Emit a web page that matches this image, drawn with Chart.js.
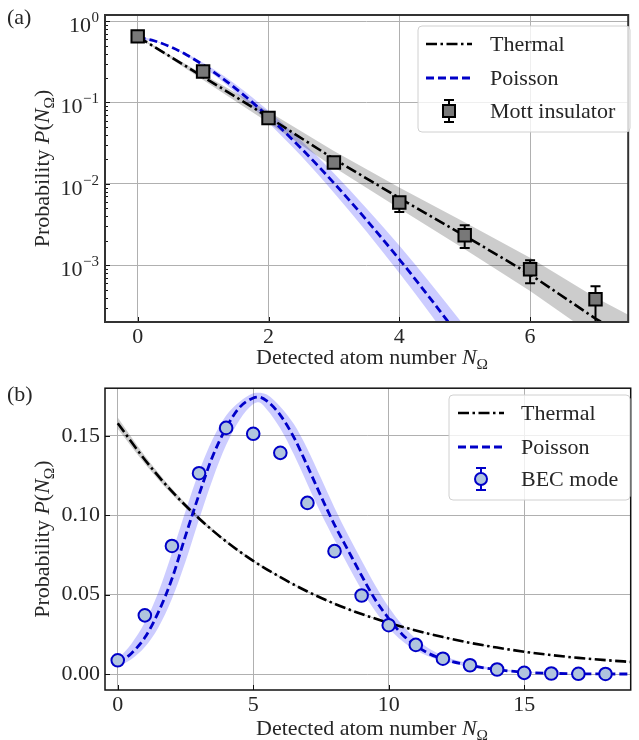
<!DOCTYPE html>
<html><head><meta charset="utf-8">
<script src="https://cdn.jsdelivr.net/npm/chart.js@4.4.1/dist/chart.umd.min.js"></script>
<style>
html,body{margin:0;padding:0;background:#fff;}
#wrap{position:relative;width:639px;height:740px;overflow:hidden;}
canvas{position:absolute;left:0;width:639px;height:370px;}
#ca{top:0}
#cb{top:370px}
</style></head><body>
<div id="wrap"><canvas id="ca" width="639" height="370"></canvas><canvas id="cb" width="639" height="370"></canvas></div>
<script>
// ---------------- DATA: panel (a) ----------------
const A_X_TICKS = [0, 2, 4, 6];
const A_X_TICK_LABELS = ['0', '2', '4', '6'];
const A_Y_TICKS = [1e-3, 1e-2, 1e-1, 1];
const A_Y_TICK_BASE = ['10', '10', '10', '10'];
const A_Y_TICK_EXP = ['\u22123', '\u22122', '\u22121', '0'];

const MOTT_X = [0, 1, 2, 3, 4, 5, 6, 7];
const MOTT_Y = [0.65, 0.241, 0.0645, 0.0183, 0.0059, 0.00233, 0.00089, 0.00038];
const MOTT_LO = [0.63, 0.226, 0.061, 0.0172, 0.0045, 0.00162, 0.0006, 0.0001];
const MOTT_HI = [0.67, 0.256, 0.068, 0.0195, 0.0068, 0.0031, 0.00115, 0.00055];

const THERM_A_X = [0, 1, 2, 3, 4, 5, 6, 7, 7.5];
const THERM_A_Y = [0.645, 0.207, 0.066, 0.0202, 0.0067, 0.0023, 0.00077, 0.00022, 0.00013];
const THERM_A_UP = [0.65, 0.222, 0.0776, 0.0254, 0.00904, 0.00336, 0.00123, 0.0004, 0.000246];
const THERM_A_LO = [0.64, 0.189, 0.0562, 0.016, 0.00497, 0.00157, 0.00048, 0.000132, 0.0000742];

const POIS_A_X = [0, 0.25, 0.5, 0.75, 1, 1.25, 1.5, 1.75, 2, 2.5, 3, 3.5, 4, 4.5, 5];
const POIS_A_Y = [0.631, 0.574, 0.483, 0.384, 0.290, 0.211, 0.148, 0.1009, 0.0668, 0.0273, 0.01024, 0.00358, 0.00118, 0.000366, 0.000108];
const POIS_A_UP = [0.663, 0.587, 0.485, 0.397, 0.307, 0.230, 0.166, 0.116, 0.079, 0.034, 0.0135, 0.00497, 0.00174, 0.000567, 0.000177];
const POIS_A_LO = [0.601, 0.561, 0.481, 0.372, 0.274, 0.194, 0.132, 0.0878, 0.0565, 0.0219, 0.00777, 0.00258, 0.0008, 0.000236, 0.000066];

// ---------------- DATA: panel (b) ----------------
const B_X_TICKS = [0, 5, 10, 15];
const B_X_TICK_LABELS = ['0', '5', '10', '15'];
const B_Y_TICKS = [0, 0.05, 0.10, 0.15];
const B_Y_TICK_LABELS = ['0.00', '0.05', '0.10', '0.15'];

const BEC_X = [0, 1, 2, 3, 4, 5, 6, 7, 8, 9, 10, 11, 12, 13, 14, 15, 16, 17, 18];
const BEC_Y = [0.0087, 0.037, 0.0807, 0.1265, 0.155, 0.1513, 0.1393, 0.1078, 0.0774, 0.0495, 0.0308, 0.0184, 0.0097, 0.0056, 0.0029, 0.0008, 0.0004, 0.0002, 0.0001];
const BEC_ERR = [0.001, 0.002, 0.002, 0.002, 0.002, 0.002, 0.002, 0.002, 0.002, 0.002, 0.002, 0.0015, 0.001, 0.001, 0.001, 0.0005, 0.0005, 0.0003, 0.0002];

const THERM_B_X = [0, 1, 2, 3, 4, 5, 6, 7, 8, 9, 10, 11, 12, 13, 14, 15, 16, 17, 18, 19];
const THERM_B_Y = [0.158, 0.135, 0.115, 0.098, 0.0835, 0.0713, 0.061, 0.052, 0.0443, 0.0378, 0.0323, 0.0275, 0.0233, 0.0197, 0.0167, 0.0141, 0.012, 0.0102, 0.0088, 0.0076];
const THERM_B_UP = [0.1615, 0.1375, 0.1168, 0.0992, 0.0843, 0.0719, 0.0615, 0.0524, 0.0446, 0.0381, 0.0325, 0.0277, 0.0235, 0.0199, 0.0168, 0.0142, 0.0121, 0.0103, 0.0089, 0.0077];
const THERM_B_LO = [0.1545, 0.1325, 0.1132, 0.0968, 0.0827, 0.0707, 0.0605, 0.0516, 0.044, 0.0375, 0.0321, 0.0273, 0.0231, 0.0195, 0.0166, 0.014, 0.0119, 0.0101, 0.0087, 0.0075];

const POIS_B_X = [0, 0.5, 1, 1.5, 2, 2.5, 3, 3.5, 4, 4.5, 5, 5.2, 5.5, 6, 6.5, 7, 7.5, 8, 8.5, 9, 9.5, 10, 10.5, 11, 11.5, 12, 13, 14, 15, 16, 17, 18, 19];
const POIS_B_Y = [0.0068, 0.013, 0.023, 0.039, 0.060, 0.087, 0.113, 0.137, 0.155, 0.168, 0.1738, 0.1744, 0.172, 0.163, 0.149, 0.131, 0.112, 0.094, 0.078, 0.062, 0.047, 0.035, 0.025, 0.018, 0.0128, 0.0095, 0.0055, 0.0028, 0.0012, 0.0005, 0.0002, 0.0001, 0.00005];
const POIS_B_UP = [0.0095, 0.019, 0.0326, 0.0516, 0.0762, 0.1026, 0.1274, 0.1478, 0.1628, 0.1715, 0.1768, 0.1772, 0.176, 0.1684, 0.1574, 0.1418, 0.1234, 0.1048, 0.0876, 0.0716, 0.056, 0.0422, 0.031, 0.0222, 0.016, 0.0116, 0.0067, 0.0036, 0.0017, 0.0007, 0.0003, 0.00015, 0.00008];
const POIS_B_LO = [0.0045, 0.0093, 0.017, 0.0294, 0.0474, 0.0708, 0.0974, 0.1226, 0.1442, 0.1602, 0.170, 0.1712, 0.1666, 0.1546, 0.1382, 0.1196, 0.1012, 0.0844, 0.0684, 0.053, 0.0398, 0.029, 0.0208, 0.015, 0.0109, 0.0083, 0.0047, 0.0023, 0.001, 0.0004, 0.00015, 0.00007, 0.00003];

// ---------------- TEXT ----------------
const Y_TITLE = [{t:'Probability '},{t:'P',it:1},{t:'('},{t:'N',it:1},{t:'\u03A9',sub:1},{t:')'}];
const X_TITLE = [{t:'Detected atom number '},{t:'N',it:1},{t:'\u03A9',sub:1}];
const LEG_A = ['Thermal', 'Poisson', 'Mott insulator'];
const LEG_B = ['Thermal', 'Poisson', 'BEC mode'];

// ---------------- STYLE ----------------
const FONT = 'Liberation Serif';
const BLUE = '#0000c8';
const TXT = '#262626';
const DASHDOT = [11, 3.5, 2.5, 3.5];
const DASH = [8, 4];

function pts(xs, ys) { return xs.map((x, i) => ({x: x, y: ys[i]})); }

function richWidth(ctx, segs, size) {
  let w = 0;
  segs.forEach(s => { ctx.font = (s.it ? 'italic ' : '') + (s.sub ? size * 0.7 : size) + 'px "' + FONT + '"'; w += ctx.measureText(s.t).width; });
  return w;
}
function drawRich(ctx, segs, x, y, size) {
  const total = richWidth(ctx, segs, size);
  let cx = x - total / 2;
  ctx.textAlign = 'left';
  ctx.textBaseline = 'alphabetic';
  segs.forEach(s => {
    const fs = s.sub ? size * 0.7 : size;
    ctx.font = (s.it ? 'italic ' : '') + fs + 'px "' + FONT + '"';
    ctx.fillText(s.t, cx, y + (s.sub ? size * 0.22 : 0));
    cx += ctx.measureText(s.t).width;
  });
}

const errorBarPlugin = {
  id: 'errbars',
  beforeDatasetDraw(chart, args) {
    const ds = chart.data.datasets[args.index];
    if (!ds.errLo) return;
    const xs = chart.scales.x, ys = chart.scales.y, a = chart.chartArea, ctx = chart.ctx;
    ctx.save();
    ctx.beginPath(); ctx.rect(a.left, a.top, a.right - a.left, a.bottom - a.top); ctx.clip();
    ctx.strokeStyle = ds.errColor; ctx.lineWidth = 2;
    ds.data.forEach((p, i) => {
      const px = xs.getPixelForValue(p.x);
      const y1 = ys.getPixelForValue(ds.errLo[i]), y2 = ys.getPixelForValue(ds.errHi[i]);
      ctx.beginPath();
      ctx.moveTo(px, y1); ctx.lineTo(px, y2);
      ctx.moveTo(px - 5, y1); ctx.lineTo(px + 5, y1);
      ctx.moveTo(px - 5, y2); ctx.lineTo(px + 5, y2);
      ctx.stroke();
    });
    ctx.restore();
  }
};

const decorPlugin = {
  id: 'decor',
  afterDraw(chart, args, o) {
    const ctx = chart.ctx, a = chart.chartArea, xs = chart.scales.x, ys = chart.scales.y;
    ctx.save();
    // inward ticks
    ctx.strokeStyle = '#111'; ctx.lineWidth = 1;
    xs.ticks.forEach(t => { const px = Math.round(xs.getPixelForValue(t.value)) + 0.5; ctx.beginPath(); ctx.moveTo(px, a.bottom); ctx.lineTo(px, a.bottom - 5); ctx.stroke(); });
    ys.ticks.forEach(t => { const py = Math.round(ys.getPixelForValue(t.value)) + 0.5; ctx.beginPath(); ctx.moveTo(a.left, py); ctx.lineTo(a.left + 5, py); ctx.stroke(); });
    if (o.minorLog) {
      for (let k = -4; k <= 0; k++) for (let m = 2; m <= 9; m++) {
        const v = m * Math.pow(10, k);
        if (v < ys.min || v > ys.max) continue;
        const py = Math.round(ys.getPixelForValue(v)) + 0.5;
        ctx.beginPath(); ctx.moveTo(a.left, py); ctx.lineTo(a.left + 3, py); ctx.stroke();
      }
    }
    // log tick labels with superscripts
    if (o.logLabels) {
      ctx.fillStyle = TXT; ctx.textBaseline = 'alphabetic'; ctx.textAlign = 'left';
      o.logLabels.ticks.forEach((v, i) => {
        const py = ys.getPixelForValue(v);
        ctx.font = '15px "' + FONT + '"';
        const we = ctx.measureText(o.logLabels.exp[i]).width;
        ctx.font = '22px "' + FONT + '"';
        const wb = ctx.measureText(o.logLabels.base[i]).width;
        const right = a.left - 6;
        ctx.fillText(o.logLabels.base[i], right - we - wb - 0.5, py + 11);
        ctx.font = '15px "' + FONT + '"';
        ctx.fillText(o.logLabels.exp[i], right - we, py + 1);
      });
    }
    // frame
    ctx.strokeStyle = o.frameColor; ctx.lineWidth = o.frameWidth;
    ctx.strokeRect(a.left, a.top, a.right - a.left, a.bottom - a.top);
    // titles
    ctx.fillStyle = TXT;
    drawRich(ctx, X_TITLE, o.xTitleX, o.xTitleY, 22);
    ctx.save();
    ctx.translate(o.yTitleX, (a.top + a.bottom) / 2);
    ctx.rotate(-Math.PI / 2);
    drawRich(ctx, Y_TITLE, 0, 7, 22);
    ctx.restore();
    // panel label
    ctx.font = '22px "' + FONT + '"'; ctx.textAlign = 'left'; ctx.textBaseline = 'middle';
    ctx.fillText(o.panel, 7, o.panelY);
    // legend
    const L = o.legend;
    ctx.beginPath();
    if (ctx.roundRect) ctx.roundRect(L.x, L.y, L.w, L.h, 4); else ctx.rect(L.x, L.y, L.w, L.h);
    ctx.fillStyle = 'rgba(255,255,255,0.8)'; ctx.fill();
    ctx.strokeStyle = '#d0d0d0'; ctx.lineWidth = 1; ctx.stroke();
    L.rows.forEach((r, i) => {
      ctx.save();
      if (r.kind === 'dashdot' || r.kind === 'dash') {
        ctx.strokeStyle = r.kind === 'dash' ? BLUE : '#000';
        ctx.lineWidth = r.kind === 'dash' ? 2.8 : 2.6;
        ctx.setLineDash(r.kind === 'dash' ? DASH : DASHDOT);
        ctx.beginPath(); ctx.moveTo(L.s0, r.y); ctx.lineTo(L.s1, r.y); ctx.stroke();
      } else {
        const cx = (L.s0 + L.s1) / 2;
        ctx.strokeStyle = r.kind === 'square' ? '#000' : BLUE; ctx.lineWidth = 2;
        ctx.beginPath();
        ctx.moveTo(cx, r.y - 11); ctx.lineTo(cx, r.y + 11);
        ctx.moveTo(cx - 5, r.y - 11); ctx.lineTo(cx + 5, r.y - 11);
        ctx.moveTo(cx - 5, r.y + 11); ctx.lineTo(cx + 5, r.y + 11);
        ctx.stroke();
        ctx.beginPath();
        if (r.kind === 'square') { ctx.rect(cx - 6, r.y - 6, 12, 12); ctx.fillStyle = '#787878'; }
        else { ctx.arc(cx, r.y, 6, 0, Math.PI * 2); ctx.fillStyle = '#b0c4de'; }
        ctx.fill(); ctx.stroke();
      }
      ctx.restore();
      ctx.fillStyle = TXT;
      ctx.font = '22px "' + FONT + '"'; ctx.textAlign = 'left'; ctx.textBaseline = 'middle';
      ctx.fillText(r.label, L.tx, r.y + 1);
    });
    ctx.restore();
  }
};

function band(xs, up, lo, color, smooth) {
  const m = smooth ? 'monotone' : 'default';
  return [
    {data: pts(xs, up), borderWidth: 0, pointRadius: 0, fill: false, order: 20, cubicInterpolationMode: m, backgroundColor: color, borderColor: 'rgba(0,0,0,0)'},
    {data: pts(xs, lo), borderWidth: 0, pointRadius: 0, fill: '-1', order: 20, cubicInterpolationMode: m, backgroundColor: color, borderColor: 'rgba(0,0,0,0)'}
  ];
}

const tickFont = {family: FONT, size: 22};

function makeScales(cfg) {
  return {
    x: {
      type: 'linear', min: cfg.xmin, max: cfg.xmax, bounds: 'data',
      grid: {color: '#b0b0b0', lineWidth: 1, drawTicks: false},
      border: {display: false},
      afterBuildTicks: s => { s.ticks = cfg.xt.map(v => ({value: v})); },
      afterFit: s => { s.height = cfg.xh; },
      ticks: {font: tickFont, color: TXT, padding: 2, maxRotation: 0, autoSkip: false,
        callback: (v) => { const i = cfg.xt.indexOf(v); return i >= 0 ? cfg.xl[i] : ''; }}
    },
    y: {
      type: cfg.ylog ? 'logarithmic' : 'linear', min: cfg.ymin, max: cfg.ymax, bounds: 'data',
      grid: {color: '#b0b0b0', lineWidth: 1, drawTicks: false},
      border: {display: false},
      afterBuildTicks: s => { s.ticks = cfg.yt.map(v => ({value: v})); },
      afterFit: s => { s.width = 105; },
      ticks: {display: !cfg.ylog, font: tickFont, color: TXT, padding: 5, autoSkip: false,
        callback: (v) => { const i = cfg.yt.findIndex(t => Math.abs(t - v) < 1e-9); return i >= 0 ? cfg.yl[i] : ''; }}
    }
  };
}

const common = { responsive: false, animation: false, devicePixelRatio: 1, events: [] };

new Chart(document.getElementById('ca'), {
  type: 'line',
  data: {datasets: [
    ...band(THERM_A_X, THERM_A_UP, THERM_A_LO, 'rgba(0,0,0,0.2)', false),
    ...band(POIS_A_X, POIS_A_UP, POIS_A_LO, 'rgba(0,0,255,0.2)', true),
    {label: LEG_A[0], data: pts(THERM_A_X, THERM_A_Y), borderColor: '#000', borderWidth: 2.6, borderDash: DASHDOT, pointRadius: 0, fill: false, order: 5},
    {label: LEG_A[1], data: pts(POIS_A_X, POIS_A_Y), borderColor: BLUE, borderWidth: 2.8, borderDash: DASH, pointRadius: 0, fill: false, order: 4, cubicInterpolationMode: 'monotone'},
    {label: LEG_A[2], data: pts(MOTT_X, MOTT_Y), showLine: false, pointStyle: 'rect', pointRadius: 8.8, pointBorderWidth: 2, pointBackgroundColor: '#787878', pointBorderColor: '#000', order: 1, errLo: MOTT_LO, errHi: MOTT_HI, errColor: '#000', clip: false}
  ]},
  options: Object.assign({}, common, {
    layout: {padding: {top: 15, right: 0, left: 0, bottom: 0}},
    scales: makeScales({xmin: -0.5, xmax: 7.5, xt: A_X_TICKS, xl: A_X_TICK_LABELS, xh: 48, ylog: true, ymin: 2.0e-4, ymax: 1.19, yt: A_Y_TICKS, yl: A_Y_TICK_EXP}),
    plugins: {legend: {display: false}, tooltip: {enabled: false},
      decor: {panel: '(a)', panelY: 18, frameColor: '#333', frameWidth: 2, minorLog: true,
        logLabels: {ticks: A_Y_TICKS, base: A_Y_TICK_BASE, exp: A_Y_TICK_EXP},
        xTitleX: 372, xTitleY: 364, yTitleX: 42,
        legend: {x: 418, y: 26, w: 212, h: 106, s0: 426, s1: 472, tx: 490,
          rows: [{kind: 'dashdot', y: 44, label: LEG_A[0]}, {kind: 'dash', y: 78, label: LEG_A[1]}, {kind: 'square', y: 111, label: LEG_A[2]}]}}}
  }),
  plugins: [errorBarPlugin, decorPlugin]
});

new Chart(document.getElementById('cb'), {
  type: 'line',
  data: {datasets: [
    ...band(THERM_B_X, THERM_B_UP, THERM_B_LO, 'rgba(0,0,0,0.2)', true),
    ...band(POIS_B_X, POIS_B_UP, POIS_B_LO, 'rgba(0,0,255,0.2)', true),
    {label: LEG_B[0], data: pts(THERM_B_X, THERM_B_Y), borderColor: '#000', borderWidth: 2.6, borderDash: DASHDOT, pointRadius: 0, fill: false, order: 5, cubicInterpolationMode: 'monotone'},
    {label: LEG_B[1], data: pts(POIS_B_X, POIS_B_Y), borderColor: BLUE, borderWidth: 2.8, borderDash: DASH, pointRadius: 0, fill: false, order: 4, cubicInterpolationMode: 'monotone'},
    {label: LEG_B[2], data: pts(BEC_X, BEC_Y), showLine: false, pointStyle: 'circle', pointRadius: 6.3, pointBorderWidth: 2, pointBackgroundColor: '#b0c4de', pointBorderColor: BLUE, order: 1,
      errLo: BEC_Y.map((v, i) => v - BEC_ERR[i]), errHi: BEC_Y.map((v, i) => v + BEC_ERR[i]), errColor: BLUE, clip: false}
  ]},
  options: Object.assign({}, common, {
    layout: {padding: {top: 13, right: 0, left: 0, bottom: 0}},
    scales: makeScales({xmin: -0.47, xmax: 18.93, xt: B_X_TICKS, xl: B_X_TICK_LABELS, xh: 50, ylog: false, ymin: -0.01, ymax: 0.18, yt: B_Y_TICKS, yl: B_Y_TICK_LABELS}),
    plugins: {legend: {display: false}, tooltip: {enabled: false},
      decor: {panel: '(b)', panelY: 25, frameColor: '#111', frameWidth: 1.5, minorLog: false,
        xTitleX: 372, xTitleY: 365, yTitleX: 42,
        legend: {x: 449, y: 25, w: 181, h: 105, s0: 458, s1: 504, tx: 521,
          rows: [{kind: 'dashdot', y: 43, label: LEG_B[0]}, {kind: 'dash', y: 77, label: LEG_B[1]}, {kind: 'circle', y: 109, label: LEG_B[2]}]}}}
  }),
  plugins: [errorBarPlugin, decorPlugin]
});
</script></body></html>
